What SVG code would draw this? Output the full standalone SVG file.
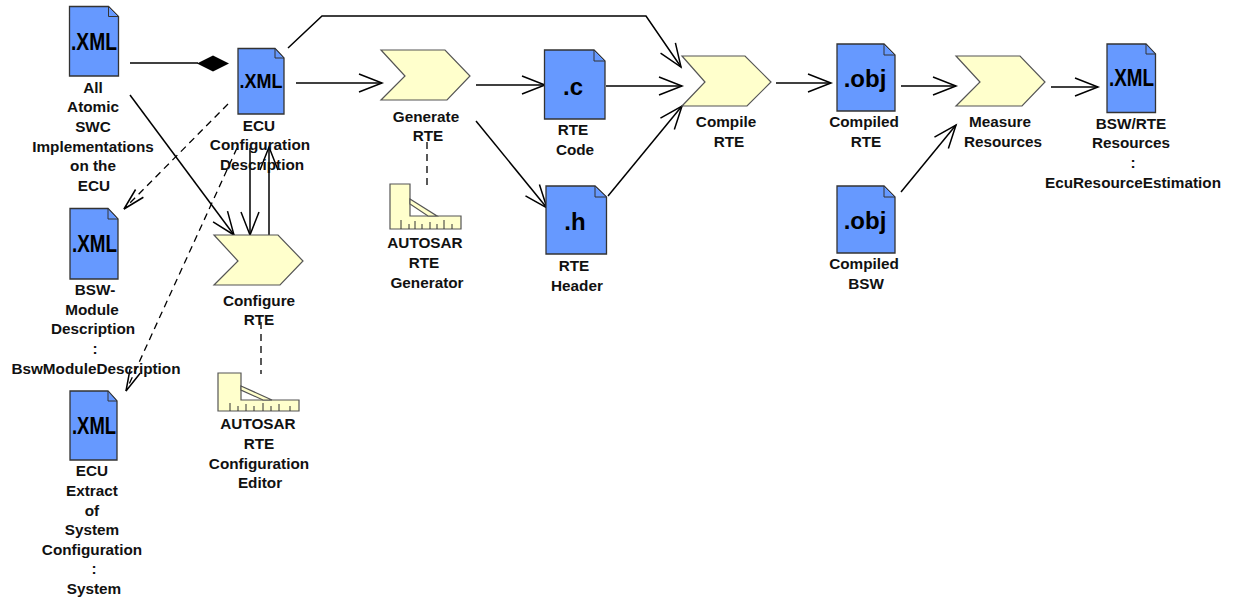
<svg xmlns="http://www.w3.org/2000/svg" width="1236" height="604" viewBox="0 0 1236 604">
<defs>
<marker id="open" markerUnits="userSpaceOnUse" markerWidth="28" markerHeight="26" refX="24" refY="12" orient="auto"><path d="M1 3 L24 12 L1 21" fill="none" stroke="#000" stroke-width="1.5"/></marker>
<marker id="slim" markerUnits="userSpaceOnUse" markerWidth="28" markerHeight="26" refX="24" refY="12" orient="auto"><path d="M2 6.500 L24 12 L2 17.500" fill="none" stroke="#000" stroke-width="1.5"/></marker>
</defs>
<style>
text{font-family:"Liberation Sans",Arial,sans-serif;font-weight:bold;fill:#111}
.lb{font-size:15.300px;text-anchor:middle}
.tp{font-size:24px;text-anchor:middle;fill:#000}
.xm{font-size:23px;text-anchor:middle;fill:#000}
.doc{fill:#6699ff;stroke:#333;stroke-width:1.3}
.fold{fill:#6699ff;stroke:#333;stroke-width:1}
.chev,.tool{fill:#ffffcc;stroke:#555;stroke-width:1.2}
.tick{fill:none;stroke:#333;stroke-width:1}
.c{fill:none;stroke:#000;stroke-width:1.5;marker-end:url(#open)}
.d{fill:none;stroke:#000;stroke-width:1.3;stroke-dasharray:7 5}
.dm{marker-end:url(#slim)}
.p{fill:none;stroke:#000;stroke-width:1.5}
</style>
<g id="connectors">
<path class="p" d="M130 63H198"/><path d="M197 63.500L213 55.500L229 63.500L213 71.500Z" fill="#000"/>
<path class="c" d="M130 95L234 235"/>
<path class="d dm" d="M228 104L124 209"/>
<path class="d dm" d="M237 148L126 391"/>
<path class="c" d="M250 148V235"/>
<path class="c" d="M269 235V147"/>
<path class="d" d="M261 322V374"/>
<path class="c" d="M296 83H382"/>
<path class="c" d="M288 48L322 16H646L681 67"/>
<path class="d" d="M427 142V186"/>
<path class="c" d="M476 85H545"/>
<path class="c" d="M476 121L547 208"/>
<path class="c" d="M606 86H682"/>
<path class="c" d="M608 196L682 106"/>
<path class="c" d="M776 83H831"/>
<path class="c" d="M901 86H956"/>
<path class="c" d="M901 192L956 125"/>
<path class="c" d="M1051 87H1098"/>
</g>
<g id="n-all"><path class="doc" d="M69.500 6.500H108.500L118.500 16.500V76H69.500Z"/><path class="fold" d="M108.500 6.500V16.500H118.500Z"/><text class="xm" x="94" y="50" textLength="46" lengthAdjust="spacingAndGlyphs">.XML</text>
<text class="lb"><tspan x="93" y="93">All</tspan><tspan x="93" y="112">Atomic</tspan><tspan x="93" y="132">SWC</tspan><tspan x="93" y="152">Implementations</tspan><tspan x="93" y="171">on the</tspan><tspan x="94" y="191">ECU</tspan></text></g>
<g id="n-ecu"><path class="doc" d="M238 48.500H275L284 58V114H238Z"/><path class="fold" d="M275 48.500V58H284Z"/><text class="xm" x="261" y="88" style="font-size:20.500px" textLength="43" lengthAdjust="spacingAndGlyphs">.XML</text>
<text class="lb"><tspan x="259" y="131">ECU</tspan><tspan x="260" y="150">Configuration</tspan><tspan x="262" y="170">Description</tspan></text></g>
<g id="n-bsw"><path class="doc" d="M70 208.500H108L118 219V279H70Z"/><path class="fold" d="M108 208.500V219H118Z"/><text class="xm" x="94.500" y="252" textLength="45" lengthAdjust="spacingAndGlyphs">.XML</text>
<text class="lb"><tspan x="95" y="295">BSW-</tspan><tspan x="92" y="315">Module</tspan><tspan x="93" y="334">Description</tspan><tspan x="95" y="354">:</tspan><tspan x="96" y="374">BswModuleDescription</tspan></text></g>
<g id="n-extract"><path class="doc" d="M70 391H108L117 401V460H70Z"/><path class="fold" d="M108 391V401H117Z"/><text class="xm" x="94" y="434" textLength="44" lengthAdjust="spacingAndGlyphs">.XML</text>
<text class="lb"><tspan x="92" y="476">ECU</tspan><tspan x="92" y="496">Extract</tspan><tspan x="92" y="516">of</tspan><tspan x="92" y="535">System</tspan><tspan x="92" y="555">Configuration</tspan><tspan x="94" y="574">:</tspan><tspan x="94" y="594">System</tspan></text></g>
<g id="n-configure"><path class="chev" d="M214 235H278L303 261L280 285H214L238 261Z"/><text class="lb"><tspan x="259" y="306">Configure</tspan><tspan x="259" y="325">RTE</tspan></text></g>
<g id="n-editor"><path class="tool" d="M218 373H241V400H299V411H218Z"/><path class="tool" d="M241 386L272 400H263L241 390Z"/><path class="tick" d="M230 411V403M238 411V406M246 411V404M254 411V406M263 411V403M271 411V406M279 411V404M290 411V406"/><text class="lb"><tspan x="258" y="429">AUTOSAR</tspan><tspan x="259" y="449">RTE</tspan><tspan x="259" y="469">Configuration</tspan><tspan x="260" y="488">Editor</tspan></text></g>
<g id="n-generate"><path class="chev" d="M381 50H445L470 76L447 100H381L405 76Z"/><text class="lb"><tspan x="426" y="122">Generate</tspan><tspan x="428" y="141">RTE</tspan></text></g>
<g id="n-generator"><path class="tool" d="M390 184H410V216H461V229H390Z"/><path class="tool" d="M410 199L437 216H428L410 204Z"/><path class="tick" d="M401 229V220M409 229V224M415 229V221M422 229V224M430 229V222M437 229V224M444 229V220M452 229V224"/><text class="lb"><tspan x="425" y="248">AUTOSAR</tspan><tspan x="424" y="268">RTE</tspan><tspan x="427" y="288">Generator</tspan></text></g>
<g id="n-code"><path class="doc" d="M544.500 50H594L605 61V119H544.500Z"/><path class="fold" d="M594 50V61H605Z"/><text class="tp" x="573" y="95">.c</text><text class="lb"><tspan x="573" y="135">RTE</tspan><tspan x="575" y="155">Code</tspan></text></g>
<g id="n-header"><path class="doc" d="M546 186H595L606.500 197V254H546Z"/><path class="fold" d="M595 186V197H606.500Z"/><text class="tp" x="575" y="230">.h</text><text class="lb"><tspan x="574" y="271">RTE</tspan><tspan x="577" y="291">Header</tspan></text></g>
<g id="n-compile"><path class="chev" d="M682 56H745L771 82L747 106H682L705 82Z"/><text class="lb"><tspan x="726" y="127">Compile</tspan><tspan x="729" y="147">RTE</tspan></text></g>
<g id="n-cobj"><path class="doc" d="M837 44H884L895 55V111H837Z"/><path class="fold" d="M884 44V55H895Z"/><text class="tp" x="865" y="87">.obj</text><text class="lb"><tspan x="864" y="127">Compiled</tspan><tspan x="866" y="147">RTE</tspan></text></g>
<g id="n-bobj"><path class="doc" d="M837 186H884L895 197V253H837Z"/><path class="fold" d="M884 186V197H895Z"/><text class="tp" x="865" y="229">.obj</text><text class="lb"><tspan x="864" y="269">Compiled</tspan><tspan x="866" y="289">BSW</tspan></text></g>
<g id="n-measure"><path class="chev" d="M956 56H1020L1045 82L1022 106H956L980 82Z"/><text class="lb"><tspan x="1000" y="127">Measure</tspan><tspan x="1003" y="147">Resources</tspan></text></g>
<g id="n-res"><path class="doc" d="M1107 44H1146L1155.500 54V112.500H1107Z"/><path class="fold" d="M1146 44V54H1155.500Z"/><text class="xm" x="1131.500" y="86" textLength="45" lengthAdjust="spacingAndGlyphs">.XML</text><text class="lb"><tspan x="1131" y="129">BSW/RTE</tspan><tspan x="1131" y="148">Resources</tspan><tspan x="1133" y="168">:</tspan><tspan x="1133" y="188">EcuResourceEstimation</tspan></text></g>
</svg>
